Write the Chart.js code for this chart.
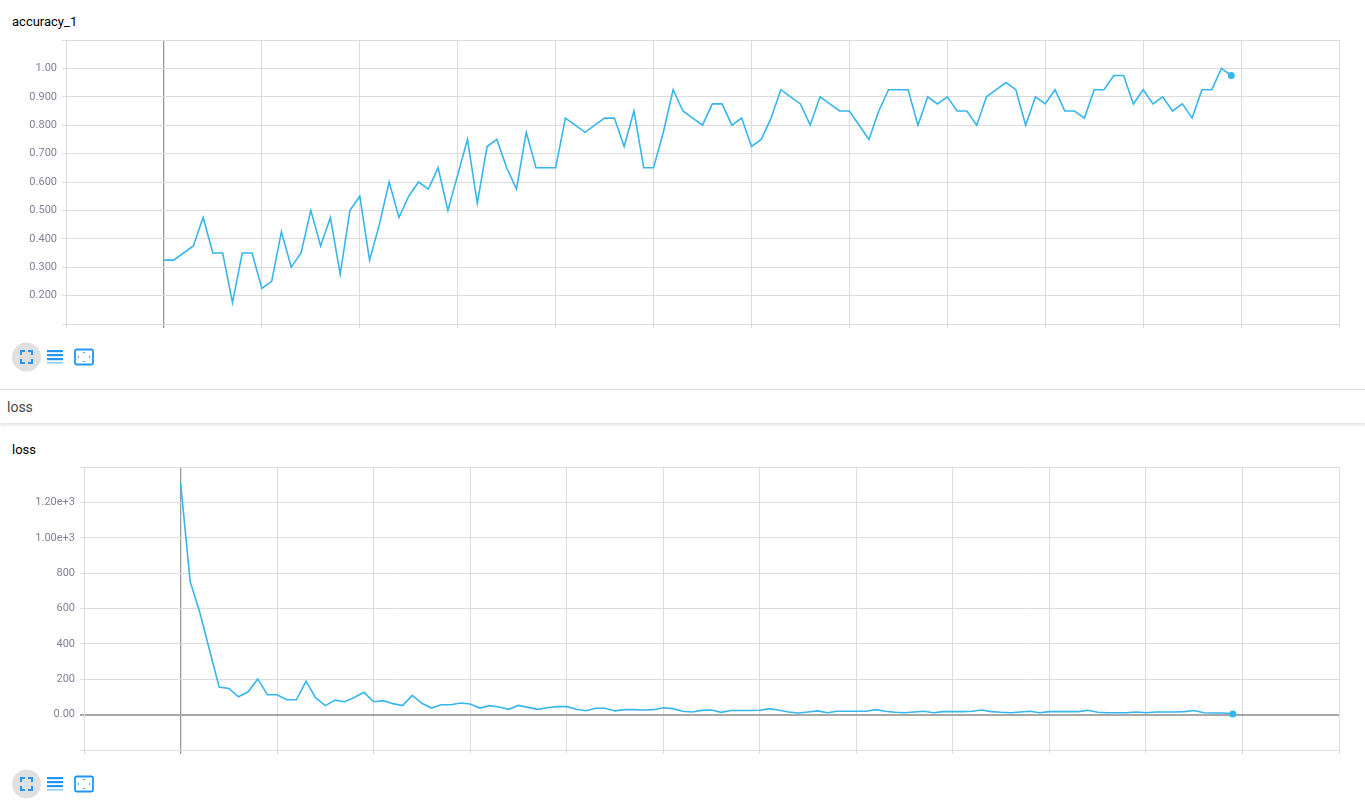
<!DOCTYPE html>
<html>
<head>
<meta charset="utf-8">
<script src="https://cdn.jsdelivr.net/npm/chart.js@4"></script>
<style>
  html, body { margin: 0; padding: 0; background: #fff; }
  body { width: 1365px; height: 809px; position: relative; overflow: hidden; font-family: Roboto, "Noto Sans", sans-serif; }
  .title { position: absolute; font-size: 13px; color: #000; }
  .cv { position: absolute; left: 0; }
  .icons { position: absolute; left: 12px; height: 30px; width: 90px; }
  .section { position: absolute; left: 0; top: 389px; width: 1365px; height: 33px; border-top: 1px solid #dcdcdc; box-shadow: 0 2px 3px rgba(0,0,0,0.12); background: #fff; }
  .section span { position: absolute; left: 7px; top: 9px; font-size: 14px; color: #444; }
</style>
</head>
<body>
<div class="title" style="left:12px; top:14px;">accuracy_1</div>
<div class="cv" style="top:28px; width:1365px; height:308px;"><canvas id="acc"></canvas></div>
<svg class="icons" style="top:342px;" width="90" height="30" viewBox="0 0 90 30">
  <circle cx="14.5" cy="15" r="14.5" fill="#e0e0e0"/>
  <g stroke="#2196f3" stroke-width="2" fill="none">
    <path d="M9 13 V9 H13 M16 9 H20 V13 M20 17 V21 H16 M13 21 H9 V17"/>
  </g>
  <g fill="#2196f3">
    <rect x="35" y="8" width="16" height="2.2"/>
    <rect x="35" y="12" width="16" height="2.2"/>
    <rect x="35" y="16" width="16" height="2.2"/>
  </g>
  <rect x="35" y="20" width="16" height="1.6" fill="#90caf9"/>
  <rect x="63" y="7.5" width="18" height="15" rx="1.5" fill="none" stroke="#2196f3" stroke-width="1.8"/>
  <g fill="#2196f3">
    <path d="M70.5 11 L72 9.8 L73.5 11 Z"/>
    <path d="M70.5 19 L72 20.2 L73.5 19 Z"/>
    <path d="M66.8 13.5 L65.6 15 L66.8 16.5 Z"/>
    <path d="M77.2 13.5 L78.4 15 L77.2 16.5 Z"/>
  </g>
</svg>
<div class="section"><span>loss</span></div>
<div class="title" style="left:12px; top:442px;">loss</div>
<div class="cv" style="top:455px; width:1365px; height:307px;"><canvas id="loss"></canvas></div>
<svg class="icons" style="top:769px;" width="90" height="30" viewBox="0 0 90 30">
  <circle cx="14.5" cy="15" r="14.5" fill="#e0e0e0"/>
  <g stroke="#2196f3" stroke-width="2" fill="none">
    <path d="M9 13 V9 H13 M16 9 H20 V13 M20 17 V21 H16 M13 21 H9 V17"/>
  </g>
  <g fill="#2196f3">
    <rect x="35" y="8" width="16" height="2.2"/>
    <rect x="35" y="12" width="16" height="2.2"/>
    <rect x="35" y="16" width="16" height="2.2"/>
  </g>
  <rect x="35" y="20" width="16" height="1.6" fill="#90caf9"/>
  <rect x="63" y="7.5" width="18" height="15" rx="1.5" fill="none" stroke="#2196f3" stroke-width="1.8"/>
  <g fill="#2196f3">
    <path d="M70.5 11 L72 9.8 L73.5 11 Z"/>
    <path d="M70.5 19 L72 20.2 L73.5 19 Z"/>
    <path d="M66.8 13.5 L65.6 15 L66.8 16.5 Z"/>
    <path d="M77.2 13.5 L78.4 15 L77.2 16.5 Z"/>
  </g>
</svg>
<script>
// ---- data ----
const steps = [0,1,2,3,4,5,6,7,8,9,10,11,12,13,14,15,16,17,18,19,20,21,22,23,24,25,26,27,28,29,
  30,31,32,33,34,35,36,37,38,39,40,41,42,43,44,45,46,47,48,49,50,51,52,53,54,55,56,57,58,59,
  60,61,62,63,64,65,66,67,68,69,70,71,72,73,74,75,76,77,78,79,80,81,82,83,84,85,86,87,88,89,
  90,91,92,93,94,95,96,97,98,99,100,101,102,103,104,105,106,107,108,109];

const accuracy = [
  0.325,0.325,0.35,0.375,0.475,0.35,0.35,0.175,0.35,0.35,
  0.225,0.25,0.425,0.30,0.35,0.50,0.375,0.475,0.275,0.50,
  0.55,0.325,0.45,0.60,0.475,0.55,0.60,0.575,0.65,0.50,
  0.625,0.75,0.525,0.725,0.75,0.65,0.575,0.775,0.65,0.65,
  0.65,0.825,0.80,0.775,0.80,0.825,0.825,0.725,0.85,0.65,
  0.65,0.775,0.925,0.85,0.825,0.80,0.875,0.875,0.80,0.825,
  0.725,0.75,0.825,0.925,0.90,0.875,0.80,0.90,0.875,0.85,
  0.85,0.80,0.75,0.85,0.925,0.925,0.925,0.80,0.90,0.875,
  0.90,0.85,0.85,0.80,0.90,0.925,0.95,0.925,0.80,0.90,
  0.875,0.925,0.85,0.85,0.825,0.925,0.925,0.975,0.975,0.875,
  0.925,0.875,0.90,0.85,0.875,0.825,0.925,0.925,1.0,0.975];

const loss = [
  1310,752,577,365,156,148,101,129,202,112,
  112,84,84,189,94,51,82,73,97,126,
  73,79,62,51,109,64,37,56,56,66,
  60,37,51,43,30,52,41,30,39,45,
  45,30,22,36,36,21,28,28,26,28,
  39,34,19,15,24,26,13,23,23,23,
  25,34,25,15,9,15,21,11,19,19,
  19,19,28,19,13,11,15,19,11,17,
  17,17,19,26,17,13,11,15,19,11,
  17,17,17,17,25,13,11,11,11,15,
  11,15,15,15,17,23,11,9,9,4];

const accTickValues = [0.2,0.3,0.4,0.5,0.6,0.7,0.8,0.9,1.0];
const accTickLabels = ['0.200','0.300','0.400','0.500','0.600','0.700','0.800','0.900','1.00'];
const lossTickValues = [0,200,400,600,800,1000,1200];
const lossTickLabels = ['0.00','200','400','600','800','1.00e+3','1.20e+3'];

// ---- chart ----
const LINE = '#37b6ee';
const GRID = '#dcdcdc';
const LABEL = '#857d99';

function lookup(values, labels) {
  return function(v) {
    for (let i = 0; i < values.length; i++) {
      if (Math.abs(values[i] - v) < 1e-6 * Math.max(1, Math.abs(v))) return labels[i];
    }
    return '';
  };
}

function makeChart(id, ys, yMin, yMax, yStep, tickVals, tickLabs, axisWidth, zeroLineY) {
  const pts = steps.map((s, i) => ({ x: s, y: ys[i] }));
  const last = pts.length - 1;
  return new Chart(document.getElementById(id), {
    type: 'line',
    data: {
      datasets: [{
        data: pts,
        borderColor: LINE,
        backgroundColor: LINE,
        borderWidth: 1.6,
        tension: 0,
        pointRadius: ctx => ctx.dataIndex === last ? 3.5 : 0,
        pointBorderWidth: 0,
        pointHoverRadius: 0,
        fill: false
      }]
    },
    options: {
      responsive: true,
      maintainAspectRatio: false,
      animation: false,
      events: [],
      layout: { padding: { top: 12, right: 26, bottom: 0, left: 0 } },
      plugins: { legend: { display: false }, tooltip: { enabled: false } },
      scales: {
        x: {
          type: 'linear',
          min: -10, max: 120,
          ticks: { display: false, stepSize: 10 },
          border: { color: GRID, width: 1 },
          grid: {
            color: ctx => (ctx.tick && ctx.tick.value === 0) ? '#999999' : GRID,
            lineWidth: ctx => (ctx.tick && ctx.tick.value === 0) ? 1.3 : 1,
            tickLength: 4
          },
          afterFit: s => { s.height = 12; }
        },
        y: {
          type: 'linear',
          min: yMin, max: yMax,
          ticks: {
            stepSize: yStep,
            color: LABEL,
            padding: 5,
            font: { family: 'Roboto', size: 11 },
            callback: lookup(tickVals, tickLabs)
          },
          border: { color: GRID, width: 1 },
          grid: {
            color: ctx => (zeroLineY && ctx.tick && Math.abs(ctx.tick.value) < 1e-9) ? '#a8a8a8' : GRID,
            lineWidth: ctx => (zeroLineY && ctx.tick && Math.abs(ctx.tick.value) < 1e-9) ? 2 : 1,
            tickLength: 4
          },
          afterFit: s => { s.width = axisWidth; }
        }
      }
    }
  });
}

makeChart('acc', accuracy, 0.1, 1.1, 0.1, accTickValues, accTickLabels, 66, false);
makeChart('loss', loss, -200, 1400, 200, lossTickValues, lossTickLabels, 84, true);
</script>
</body>
</html>
